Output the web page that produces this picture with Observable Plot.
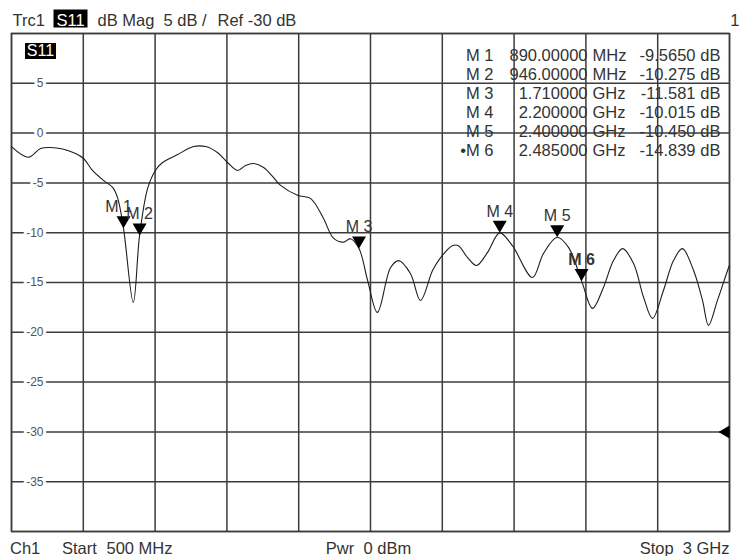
<!DOCTYPE html>
<html><head><meta charset="utf-8">
<script src="https://cdn.jsdelivr.net/npm/d3@7"></script>
<script src="https://cdn.jsdelivr.net/npm/@observablehq/plot@0.6"></script>
<style>
html,body{margin:0;padding:0;background:#fff;}
#chart{width:742px;height:556px;overflow:hidden;}
#chart svg{display:block;}
</style></head><body><div id="chart"></div>
<script>
// ---- data ----
const freqMHz = [500, 559, 601, 636, 678, 723, 751, 782, 820, 852, 869, 890, 924, 946, 974, 1001, 1026, 1077, 1134, 1176, 1217, 1252, 1287, 1315, 1343, 1378, 1409, 1437, 1496, 1541, 1586, 1621, 1656, 1680, 1710, 1740, 1774, 1820, 1848, 1889, 1924, 1966, 1994, 2035, 2056, 2088, 2119, 2157, 2200, 2244, 2314, 2352, 2400, 2440, 2485, 2523, 2561, 2596, 2628, 2666, 2701, 2732, 2770, 2805, 2836, 2875, 2906, 2927, 2958, 2997, 3000];
const s11dB = [-1.35, -2.42, -1.55, -1.45, -1.6, -2.05, -2.55, -3.75, -4.75, -5.45, -6.45, -9.565, -17.0, -10.275, -5.55, -3.75, -2.95, -2.18, -1.35, -1.35, -1.95, -2.95, -3.75, -3.25, -3.05, -3.45, -4.35, -5.25, -6.25, -6.55, -8.55, -10.55, -10.95, -10.6, -11.581, -14.8, -18.0, -13.5, -12.8, -14.1, -16.8, -13.8, -12.5, -11.3, -11.3, -12.5, -13.3, -12.0, -10.015, -11.3, -14.5, -12.1, -10.45, -11.5, -14.839, -17.6, -15.5, -12.8, -11.6, -13.1, -16.5, -18.6, -15.8, -12.8, -11.6, -13.8, -16.8, -19.3, -16.8, -13.5, -13.3];

const markerNames = ["M 1", "M 2", "M 3", "M 4", "M 5", "M 6"];
const markerFreqMHz = [890, 946, 1710, 2200, 2400, 2485];
const markerDb = [-9.565, -10.275, -11.581, -10.015, -10.45, -14.839];
const markerFreqText = ["890.00000", "946.00000", "1.710000", "2.200000", "2.400000", "2.485000"];
const markerUnit = ["MHz", "MHz", "GHz", "GHz", "GHz", "GHz"];
const markerDbText = ["-9.5650", "-10.275", "-11.581", "-10.015", "-10.450", "-14.839"];
const activeMarker = 5;

const xGrid = [500, 750, 1000, 1250, 1500, 1750, 2000, 2250, 2500, 2750, 3000];
const yGrid = [10, 5, 0, -5, -10, -15, -20, -25, -30, -35, -40];
const yTicks = [5, 0, -5, -10, -15, -20, -25, -30, -35];
const yTickLabels = ["5", "0", "-5", "-10", "-15", "-20", "-25", "-30", "-35"];
const refLevel = -30;

// ---- build ----
const trace = freqMHz.map((f, i) => ({f, db: s11dB[i]}));
const markers = markerNames.map((name, i) => ({name, f: markerFreqMHz[i], db: markerDb[i], i}));

const FONT = "'Liberation Sans', Arial, sans-serif";
const TXT = "#333";
const GRID = "#3c3c3c";
const FS = 16.5;

const downTri = {draw(ctx) { ctx.moveTo(0, 0); ctx.lineTo(-7, -12); ctx.lineTo(7, -12); ctx.closePath(); }};
const leftTri = {draw(ctx) { ctx.moveTo(0, -6.5); ctx.lineTo(-11, 0); ctx.lineTo(0, 6.5); ctx.closePath(); }};
const box = (w, h) => ({draw(ctx) { ctx.rect(-w / 2, -h / 2, w, h); }});
const label = (s, o) => Plot.text([s], {text: d => d, fontSize: FS, fill: TXT, lineAnchor: "bottom", ...o});
const column = (lines, o) => Plot.text([lines.join("\n")], {text: d => d, frameAnchor: "top-right", dy: 14,
  lineAnchor: "top", lineHeight: 19 / FS, fontSize: FS, fill: TXT, ...o});

const chart = Plot.plot({
  width: 742, height: 556,
  marginTop: 33, marginRight: 13, marginBottom: 25, marginLeft: 11,
  x: {domain: [500, 3000], axis: null},
  y: {domain: [-40, 10], axis: null},
  style: {fontFamily: FONT, background: "white", overflow: "visible"},
  marks: [
    Plot.ruleX(xGrid, {x: d => d, stroke: GRID, strokeWidth: 1.5}),
    Plot.ruleY(yGrid, {y: d => d, stroke: GRID, strokeWidth: 1.5}),
    Plot.frame({stroke: GRID, strokeWidth: 1.5}),
    Plot.text(yTicks, {y: d => d, text: (d, i) => yTickLabels[i], frameAnchor: "left", dx: 32, textAnchor: "end",
      fontSize: 12, fill: "#555", stroke: "white", strokeWidth: 6, paintOrder: "stroke"}),
    // marker table
    column(markerNames.map((n, i) => (i === activeMarker ? "\u2022" : "") + n), {dx: -236, textAnchor: "end"}),
    column(markerFreqText, {dx: -142, textAnchor: "end"}),
    column(markerUnit, {dx: -137, textAnchor: "start"}),
    column(markerDbText, {dx: -34, textAnchor: "end"}),
    column(markerDbText.map(() => "dB"), {dx: -9, textAnchor: "end"}),
    // S11 tag inside the frame
    Plot.dot(["S11"], {frameAnchor: "top-left", dx: 29, dy: 17.5, symbol: box(31, 16), fill: "black"}),
    Plot.text(["S11"], {text: d => d, frameAnchor: "top-left", dx: 29, dy: 17.5, textAnchor: "middle", lineAnchor: "middle", fontSize: 16, fill: "white"}),
    // trace
    Plot.line(trace, {x: "f", y: "db", stroke: "#1e1e1e", strokeWidth: 1.1, curve: "catmull-rom"}),
    // markers
    Plot.dot(markers, {x: "f", y: "db", symbol: downTri, fill: "black"}),
    Plot.text(markers.filter(d => d.i === 0), {x: "f", y: "db", text: "name", dx: -5, dy: -16, lineAnchor: "bottom", fontSize: 16, fill: TXT}),
    Plot.text(markers.filter(d => d.i !== 0 && d.i !== activeMarker), {x: "f", y: "db", text: "name", dy: -16, lineAnchor: "bottom", fontSize: 16, fill: TXT}),
    Plot.text(markers.filter(d => d.i === activeMarker), {x: "f", y: "db", text: "name", dy: -16, lineAnchor: "bottom", fontSize: 16, fontWeight: "bold", fill: TXT}),
    // reference level arrow
    Plot.dot([refLevel], {y: d => d, frameAnchor: "right", symbol: leftTri, fill: "black"}),
    // header
    label("Trc1", {frameAnchor: "top-left", dx: 1, dy: -8, textAnchor: "start"}),
    Plot.dot(["S11"], {frameAnchor: "top-left", dx: 59, dy: -15, symbol: box(34, 18), fill: "black"}),
    label("S11", {frameAnchor: "top-left", dx: 59, dy: -8, textAnchor: "middle", fill: "white"}),
    label("dB Mag", {frameAnchor: "top-left", dx: 86, dy: -8, textAnchor: "start"}),
    label("5 dB /", {frameAnchor: "top-left", dx: 152, dy: -8, textAnchor: "start"}),
    label("Ref -30 dB", {frameAnchor: "top-left", dx: 206, dy: -8, textAnchor: "start"}),
    label("1", {frameAnchor: "top-right", dx: 10, dy: -8, textAnchor: "end"}),
    // footer
    label("Ch1", {frameAnchor: "bottom-left", dx: -1.5, dy: 22, textAnchor: "start"}),
    label("Start", {frameAnchor: "bottom-left", dx: 50.5, dy: 22, textAnchor: "start"}),
    label("500 MHz", {frameAnchor: "bottom-left", dx: 95, dy: 22, textAnchor: "start"}),
    label("Pwr  0 dBm", {frameAnchor: "bottom", dx: -2, dy: 22, textAnchor: "middle"}),
    label("Stop  3 GHz", {frameAnchor: "bottom-right", dx: 0, dy: 22, textAnchor: "end"})
  ]
});
document.getElementById("chart").appendChild(chart);
</script></body></html>
